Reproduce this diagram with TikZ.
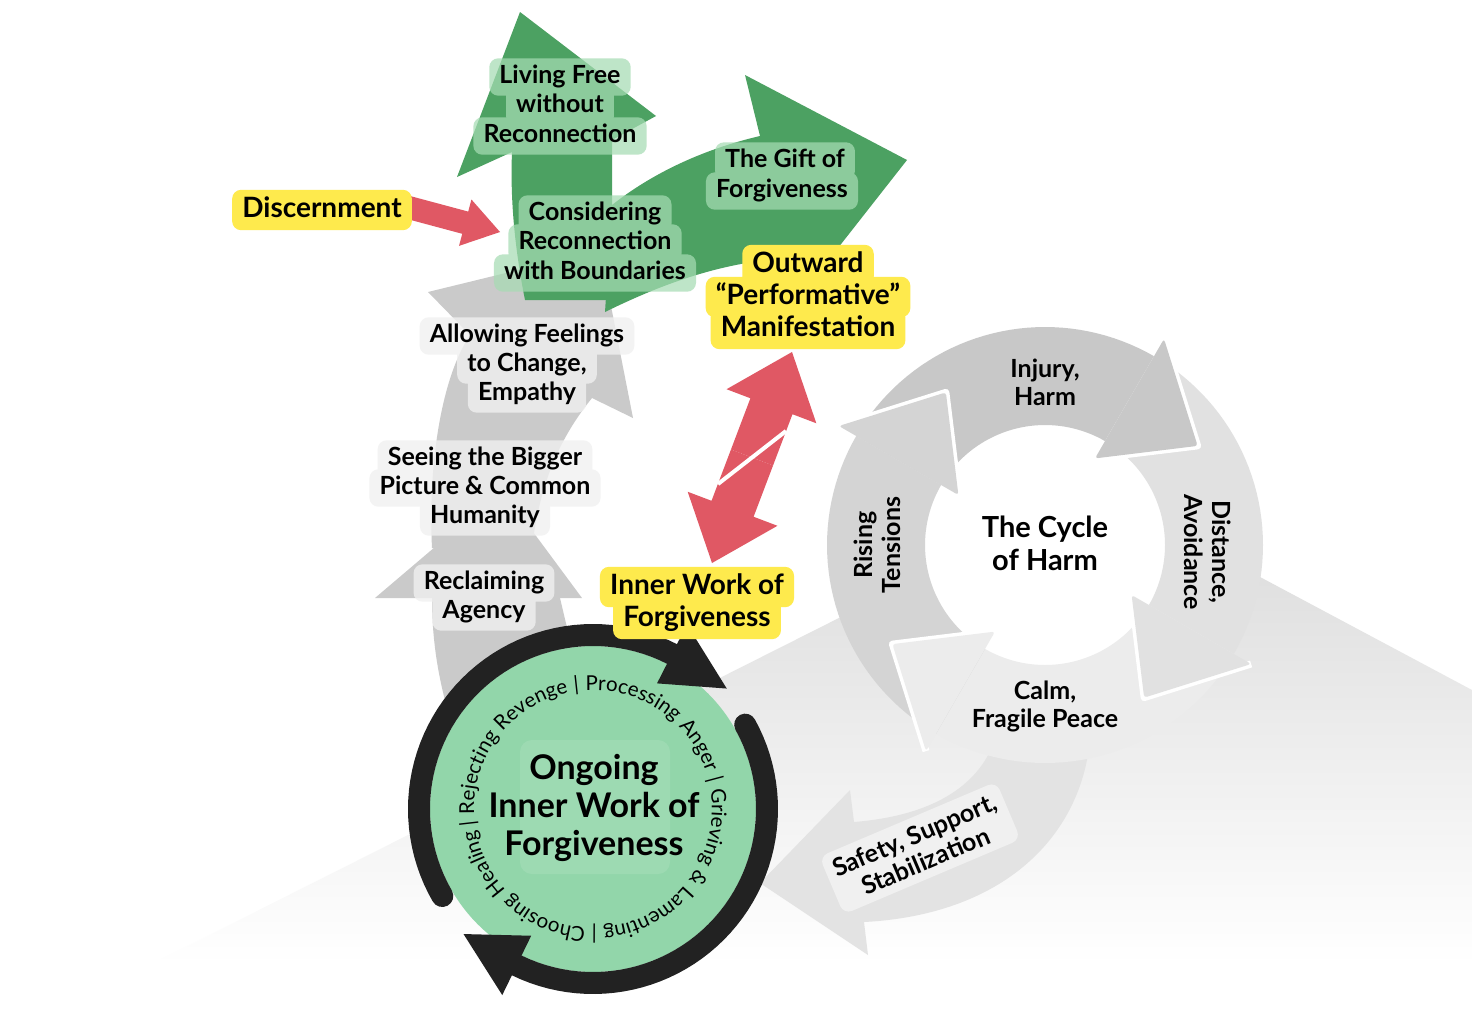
\documentclass[tikz,border=0pt]{standalone}
\usepackage{fontspec}
\setmainfont{Lato}
\usetikzlibrary{calc,decorations.text}
\pgfdeclarelayer{back}
\pgfdeclarelayer{lblbg}
\pgfsetlayers{back,lblbg,main}

\definecolor{yel}{HTML}{FEEA4D}
\definecolor{redc}{HTML}{E05864}
\definecolor{gdark}{HTML}{4CA162}
\definecolor{glbl}{HTML}{A6DCB3}
\definecolor{graylbl}{HTML}{F0F0F0}
\definecolor{garrow}{HTML}{CACACA}
\definecolor{gdisk}{HTML}{92D6AA}
\definecolor{ringc}{HTML}{222222}
\definecolor{cInj}{HTML}{C8C8C8}
\definecolor{cRis}{HTML}{D4D4D4}
\definecolor{cDis}{HTML}{E1E1E1}
\definecolor{cCal}{HTML}{ECECEC}
\definecolor{safec}{HTML}{E3E3E3}

\newcommand\circfont{\fontsize{20.5}{24}\selectfont}

\newcommand\cycband[3]{%
  \fill[#1] plot[domain=#2:#3,samples=40] ({1045+218*cos(\x)},{545+218*sin(\x)})
    -- plot[domain=#3:#2,samples=40] ({1045+120*cos(\x)},{545+120*sin(\x)}) -- cycle;}
\newcommand\cychead[2]{%
  \draw[white,line width=7pt,line join=round] ({1045+238*cos(#2)},{545+238*sin(#2)})
    -- ({1045+182*cos(#2+27)},{545+182*sin(#2+27)}) -- ({1045+100*cos(#2)},{545+100*sin(#2)});
  \fill[#1,rounded corners=3pt] ({1045+238*cos(#2)},{545+238*sin(#2)})
    -- ({1045+182*cos(#2+27)},{545+182*sin(#2+27)}) -- ({1045+100*cos(#2)},{545+100*sin(#2)}) -- cycle;}
% style, tail, tip, half shaft, half head, head length
\newcommand\fatarrow[6]{%
  \path ($(#3)!#6!(#2)$) coordinate (fab);
  \fill[#1] ($(#2)!#4!90:(#3)$) -- ($(fab)!#4!90:(#3)$) -- ($(fab)!#5!90:(#3)$) -- (#3)
    -- ($(fab)!#5!-90:(#3)$) -- ($(fab)!#4!-90:(#3)$) -- ($(#2)!#4!-90:(#3)$) -- cycle;}

\tikzset{
  lbl/.style={font=\fontsize{25}{30}\selectfont\bfseries, inner xsep=10pt, inner ysep=7pt, text height=18pt, text depth=5pt},
  ylbl/.style={font=\fontsize{28}{32}\selectfont\bfseries, inner xsep=10pt, inner ysep=7pt, text height=20pt, text depth=6pt},
  ybg/.style={fill=yel, rounded corners=9pt},
  gbg/.style={fill=glbl, fill opacity=0.72, rounded corners=9pt},
  wbg/.style={fill=graylbl, fill opacity=0.8, rounded corners=9pt},
  ctxt/.style={font=\fontsize{25}{28}\selectfont\bfseries, align=center},
}

\begin{document}
\begin{tikzpicture}[x=1pt,y=-1pt]
\useasboundingbox (0,0) rectangle (1472,1010);

\begin{pgfonlayer}{back}
\fill[white] (0,0) rectangle (1472,1010);
% background mountain
\shade[top color=black!15, bottom color=white] (150,965) -- (1095,489) -- (1472,690) -- (1472,965) -- cycle;
% safety arrow
\fill[safec] (854,822) .. controls (940,815) and (990,780) .. (1000,720) -- (1090,740)
  .. controls (1080,840) and (1000,915) .. (864,922) -- (868,955) -- (760,883) -- (850,790) -- cycle;
% cycle of harm
\fill[white] (1045,545) circle[radius=122pt];
\cycband{cInj}{210}{300}
\cycband{cDis}{300}{390}
\cycband{cCal}{30}{120}
\cycband{cRis}{120}{210}
\cychead{cInj}{300}
\cychead{cDis}{390}
\cychead{cCal}{120}
\cychead{cRis}{210}
% left gray arrows
\fill[garrow] (432,598) .. controls (432,640) and (438,680) .. (452,725) -- (590,725) -- (560,598)
  -- (582,598) -- (502,490) -- (375,598) -- cycle;
\fill[garrow] (432,548) .. controls (428,470) and (440,380) .. (470,335) -- (428,292) -- (600,250)
  -- (633,418) -- (592,398) .. controls (562,435) and (540,480) .. (532,548) -- cycle;
% green arrows
\fill[gdark] (525,300) .. controls (515,250) and (510,200) .. (512,152) -- (457,177) -- (520,12)
  -- (656,116) -- (612,140) .. controls (612,190) and (612,250) .. (615,300) -- cycle;
\fill[gdark] (605,312) .. controls (660,285) and (720,262) .. (790,258) -- (805,290) -- (907,160)
  -- (745,75) -- (760,136) .. controls (700,150) and (650,175) .. (612,205) -- cycle;
% green circle
\fill[gdisk] (593,809) circle[radius=163pt];
\fill[white,opacity=0.1,rounded corners=12pt] (520,740) rectangle (670,874);
\draw[ringc,line width=22pt,line cap=round] plot[domain=150:297,samples=50] ({593+174*cos(\x)},{809+174*sin(\x)});
\fill[ringc] ({593+141*cos(297)},{809+141*sin(297)}) -- ({593+207*cos(297)},{809+207*sin(297)})
  -- ({593+180*cos(318)},{809+180*sin(318)}) -- cycle;
\draw[ringc,line width=22pt,line cap=round] plot[domain=331:476,samples=50] ({593+174*cos(\x)},{809+174*sin(\x)});
\fill[ringc] ({593+141*cos(476)},{809+141*sin(476)}) -- ({593+207*cos(476)},{809+207*sin(476)})
  -- ({593+180*cos(496)},{809+180*sin(496)}) -- cycle;
\path[decorate, decoration={text along path, text format delimiters={[}{]},
  text={[\circfont]| Rejecting Revenge | Processing Anger | Grieving {\&} Lamenting | Choosing Healing },
  text align=fit to path stretching spaces}]
  plot[domain=172:530,samples=120] ({593+119*cos(\x)},{809+119*sin(\x)});
% red arrows
\coordinate (dtail) at (403,206);
\coordinate (dtip) at (500,232);
\fatarrow{redc}{dtail}{dtip}{11.5pt}{24pt}{36pt}
\coordinate (rmid) at (752,457.5);
\coordinate (rt1) at (792,352);
\coordinate (rt2) at (712,563);
\fatarrow{redc}{rmid}{rt1}{22.5pt}{48pt}{58pt}
\fatarrow{redc}{rmid}{rt2}{22.5pt}{48pt}{58pt}
\coordinate (cuta) at (718,484);
\coordinate (cutb) at (786,431);
\draw[white,line width=4pt] (cuta) -- (cutb);
\end{pgfonlayer}

% labels
\node[ylbl] (disc) at (322,210) {Discernment};
\node[ylbl] (out1) at (808,265) {Outward};
\node[ylbl] (out2) at (808,297) {“Performative”};
\node[ylbl] (out3) at (808,329) {Manifestation};
\node[ylbl] (inw1) at (697,587) {Inner Work of};
\node[ylbl] (inw2) at (697,619) {Forgiveness};

\node[lbl] (lf1) at (560,77) {Living Free};
\node[lbl] (lf2) at (560,106) {without};
\node[lbl] (lf3) at (560,136) {Reconnection};
\node[lbl] (gf1) at (785,161) {The Gift of};
\node[lbl] (gf2) at (782,191) {Forgiveness};
\node[lbl] (cr1) at (595,214) {Considering};
\node[lbl] (cr2) at (595,243) {Reconnection};
\node[lbl] (cr3) at (595,273) {with Boundaries};

\node[lbl] (af1) at (527,336) {Allowing Feelings};
\node[lbl] (af2) at (527,365) {to Change,};
\node[lbl] (af3) at (527,394) {Empathy};
\node[lbl] (sb1) at (485,459) {Seeing the Bigger};
\node[lbl] (sb2) at (485,488) {Picture \& Common};
\node[lbl] (sb3) at (485,517) {Humanity};
\node[lbl] (ra1) at (484,583) {Reclaiming};
\node[lbl] (ra2) at (484,612) {Agency};

\begin{pgfonlayer}{lblbg}
\fill[ybg] (disc.south west) rectangle (disc.north east);
\fill[ybg] (out1.south west) rectangle (out1.north east) (out2.south west) rectangle (out2.north east)
  (out3.south west) rectangle (out3.north east);
\fill[ybg] (inw1.south west) rectangle (inw1.north east) (inw2.south west) rectangle (inw2.north east);
\fill[gbg] (lf1.south west) rectangle (lf1.north east) (lf2.south west) rectangle (lf2.north east)
  (lf3.south west) rectangle (lf3.north east);
\fill[gbg] (gf1.south west) rectangle (gf1.north east) (gf2.south west) rectangle (gf2.north east);
\fill[gbg] (cr1.south west) rectangle (cr1.north east) (cr2.south west) rectangle (cr2.north east)
  (cr3.south west) rectangle (cr3.north east);
\fill[wbg] (af1.south west) rectangle (af1.north east) (af2.south west) rectangle (af2.north east)
  (af3.south west) rectangle (af3.north east);
\fill[wbg] (sb1.south west) rectangle (sb1.north east) (sb2.south west) rectangle (sb2.north east)
  (sb3.south west) rectangle (sb3.north east);
\fill[wbg] (ra1.south west) rectangle (ra1.north east) (ra2.south west) rectangle (ra2.north east);
\end{pgfonlayer}

% cycle labels
\node[ctxt] (inj) at (1045,382) {Injury,\\Harm};
\node[font=\fontsize{29}{33}\selectfont\bfseries, align=center] (coh) at (1045,543) {The Cycle\\of Harm};
\node[ctxt, rotate=-90] (dist) at (1208,552) {Distance,\\Avoidance};
\node[ctxt] (calm) at (1045,706) {Calm,\\Fragile Peace};
\node[ctxt, rotate=90] (rise) at (877,545) {Rising\\Tensions};
\node[ctxt, fill=graylbl, rounded corners=9pt, rotate=23, inner sep=8pt] (safety) at (920,848) {Safety, Support,\\Stabilization};
% center of green circle
\node[font=\fontsize{34}{38}\selectfont\bfseries, align=center] (ong) at (594,808) {Ongoing\\Inner Work of\\Forgiveness};
\end{tikzpicture}
\end{document}
